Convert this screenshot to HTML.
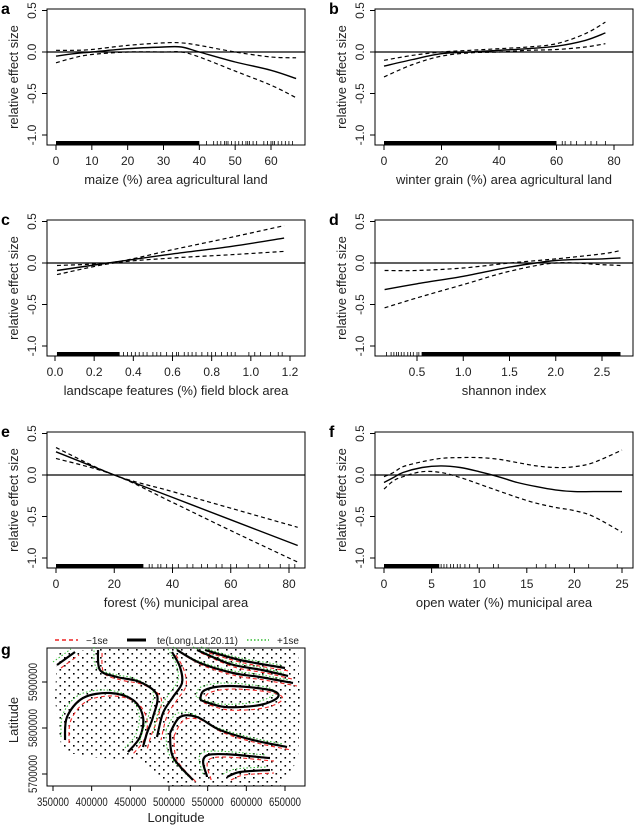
<!DOCTYPE html>
<html><head><meta charset="utf-8"><style>
html,body{margin:0;padding:0;background:#fff}
svg{display:block;font-family:"Liberation Sans",Arial,sans-serif}
</style></head><body>
<svg id="fig" width="637" height="827" viewBox="0 0 637 827" xmlns="http://www.w3.org/2000/svg">
<defs>
<pattern id="dots" width="9" height="8" patternUnits="userSpaceOnUse">
<rect x="1" y="1" width="1.6" height="1.6" fill="#000"/><rect x="5.5" y="5" width="1.6" height="1.6" fill="#000"/>
</pattern>
<clipPath id="hull"><polygon points="57,652 100,649 298,649 300,700 298,760 280,786 170,786 140,760 100,758 62,752 55,700"/></clipPath>
</defs>
<g id="panels"></g>
<g id="map"></g>
</svg>
<script>
// ---- data ----
const aX=[0,5,10,20,30,35,40,50,60,67];
const aFit=[-0.05,-0.02,0.0,0.04,0.06,0.06,0.0,-0.12,-0.22,-0.32];
const aUp=[0.02,0.02,0.03,0.08,0.11,0.11,0.08,0.0,-0.06,-0.07];
const aLo=[-0.13,-0.07,-0.03,0.0,0.0,0.0,-0.06,-0.23,-0.4,-0.55];
const aTicks=[0,10,20,30,40,50,60];
const aRug=[42,44,45,46,47,47.5,48,49,50,51,52,53,53.5,54,55,56,58,59,60,60.5,61,62,63,64,65,66];

const bX=[0,10,20,30,40,50,60,70,77];
const bFit=[-0.17,-0.09,-0.02,0.0,0.02,0.04,0.07,0.14,0.23];
const bUp=[-0.1,-0.04,0.0,0.02,0.04,0.06,0.1,0.22,0.36];
const bLo=[-0.3,-0.15,-0.05,-0.01,0.0,0.02,0.03,0.06,0.1];
const bTicks=[0,20,40,60,80];
const bRug=[62,63,65,67,70,72,74,77];

const cX=[0.01,0.3,0.6,0.9,1.17];
const cFit=[-0.09,0.01,0.11,0.2,0.3];
const cUp=[-0.03,0.01,0.16,0.31,0.45];
const cLo=[-0.14,0.0,0.06,0.1,0.14];
const cTicks=[0.0,0.2,0.4,0.6,0.8,1.0,1.2];
const cRug=[0.35,0.37,0.39,0.41,0.43,0.45,0.47,0.5,0.52,0.54,0.57,0.6,0.62,0.63,0.66,0.68,0.7,0.72,0.75,0.78,0.8,0.82,0.85,0.88,0.9,0.92,0.99,1.02,1.05,1.1,1.14,1.16];

const dX=[0.15,0.5,1.0,1.5,2.0,2.5,2.7];
const dFit=[-0.32,-0.25,-0.16,-0.05,0.03,0.05,0.06];
const dUp=[-0.09,-0.09,-0.06,0.0,0.05,0.11,0.15];
const dLo=[-0.54,-0.42,-0.26,-0.1,0.0,-0.02,-0.03];
const dTicks=[0.5,1.0,1.5,2.0,2.5];
const dRug=[0.17,0.22,0.25,0.28,0.3,0.33,0.36,0.4,0.43,0.46,0.5,0.52];

const eX=[0,20,40,60,83];
const eFit=[0.28,0.0,-0.27,-0.54,-0.85];
const eUp=[0.33,0.0,-0.2,-0.4,-0.63];
const eLo=[0.2,0.0,-0.33,-0.67,-1.05];
const eTicks=[0,20,40,60,80];
const eRug=[32,33,35,36,38,40,42,45,47,50,52,55,57,60,62,66,70,73,77,80,82];

const fX=[0,1,2,4,6,8,10,12,14,16,18,20,22,25];
const fFit=[-0.09,-0.03,0.03,0.09,0.11,0.09,0.04,-0.02,-0.09,-0.14,-0.18,-0.2,-0.2,-0.2];
const fUp=[-0.02,0.03,0.1,0.16,0.2,0.21,0.21,0.19,0.15,0.11,0.09,0.1,0.15,0.3];
const fLo=[-0.17,-0.07,-0.02,0.04,0.03,-0.03,-0.11,-0.19,-0.27,-0.34,-0.39,-0.43,-0.5,-0.69];
const fTicks=[0,5,10,15,20,25];
const fRug=[6,6.3,6.6,7,7.3,7.7,8,8.5,9,9.8,11.5,12,16,17,18,19.5,21.5,24.5];

const yTicks=[0.5,0.0,-0.5,-1.0];
const yTickLabels=["0.5","0.0","-0.5","-1.0"];

const NS="http://www.w3.org/2000/svg";
function mk(tag,attrs,parent){const e=document.createElementNS(NS,tag);for(const k in attrs)e.setAttribute(k,attrs[k]);parent.appendChild(e);return e;}
function smooth(pts){let d="M"+pts[0][0].toFixed(1)+","+pts[0][1].toFixed(1);
 for(let i=0;i<pts.length-1;i++){const p0=pts[i-1]||pts[i],p1=pts[i],p2=pts[i+1],p3=pts[i+2]||p2;
  const c1=[p1[0]+(p2[0]-p0[0])/6,p1[1]+(p2[1]-p0[1])/6],c2=[p2[0]-(p3[0]-p1[0])/6,p2[1]-(p3[1]-p1[1])/6];
  d+="C"+c1.join(",")+" "+c2.join(",")+" "+p2[0].toFixed(1)+","+p2[1].toFixed(1);}
 return d;}

const panelsG=document.getElementById('panels');
const panels=[
 {id:"a",ox:0,oy:0,t0:0,p0:56,t1:60,p1:271,X:aX,fit:aFit,up:aUp,lo:aLo,ticks:aTicks,rug:aRug,dense:[0,40],xl:"maize (%) area agricultural land",fmt:v=>String(v)},
 {id:"b",ox:328,oy:0,t0:0,p0:384,t1:80,p1:614,X:bX,fit:bFit,up:bUp,lo:bLo,ticks:bTicks,rug:bRug,dense:[0,60],xl:"winter grain (%) area agricultural land",fmt:v=>String(v)},
 {id:"c",ox:0,oy:211,t0:0,p0:55,t1:1.2,p1:290,X:cX,fit:cFit,up:cUp,lo:cLo,ticks:cTicks,rug:cRug,dense:[0.01,0.33],xl:"landscape features (%) field block area",fmt:v=>v.toFixed(1)},
 {id:"d",ox:328,oy:211,t0:0.5,p0:417,t1:2.5,p1:602,X:dX,fit:dFit,up:dUp,lo:dLo,ticks:dTicks,rug:dRug,dense:[0.55,2.7],xl:"shannon index",fmt:v=>v.toFixed(1)},
 {id:"e",ox:0,oy:423,t0:0,p0:56,t1:80,p1:289,X:eX,fit:eFit,up:eUp,lo:eLo,ticks:eTicks,rug:eRug,dense:[0,30],xl:"forest (%) municipal area",fmt:v=>String(v)},
 {id:"f",ox:328,oy:423,t0:0,p0:384,t1:25,p1:622,X:fX,fit:fFit,up:fUp,lo:fLo,ticks:fTicks,rug:fRug,dense:[0,5.8],xl:"open water (%) municipal area",fmt:v=>String(v)}
];
panels.forEach(P=>{
 const g=mk('g',{},panelsG);
 
 
 const L=47+P.ox,R=305+P.ox,T=9+P.oy,B=145+P.oy;
 const xs=v=>P.p0+(v-P.t0)*(P.p1-P.p0)/(P.t1-P.t0);
 const ys=v=>52+P.oy-v*83;
 const lab=mk('text',{x:P.ox+1,y:14+P.oy,'font-size':16,'font-weight':'bold'},g);lab.textContent=P.id;
 
 
 const box=mk('rect',{x:L,y:T,width:R-L,height:B-T,fill:'none',stroke:'#000','stroke-width':1},g);
 
 
 yTicks.forEach((v,i)=>{const y=ys(v);mk('line',{x1:L-5,x2:L,y1:y,y2:y,stroke:'#000'},g);
  const t=mk('text',{x:0,y:0,'font-size':12,'text-anchor':'middle',fill:'#222',transform:`translate(${36+P.ox},${y}) rotate(-90)`},g);t.textContent=yTickLabels[i];
  
  });
 const yt=mk('text',{'font-size':13,'text-anchor':'middle',fill:'#222',transform:`translate(${18+P.ox},${77+P.oy}) rotate(-90)`},g);yt.textContent="relative effect size";
 
 
 P.ticks.forEach(v=>{const x=xs(v);mk('line',{x1:x,x2:x,y1:B,y2:B+5,stroke:'#000'},g);
  const t=mk('text',{x:x,y:B+20,'font-size':12,'text-anchor':'middle',fill:'#222'},g);t.textContent=P.fmt(v);
  
  });
 const xt=mk('text',{x:(L+R)/2,y:B+39,'font-size':13,'text-anchor':'middle',fill:'#222'},g);xt.textContent=P.xl;
 
 
 const z=mk('line',{x1:L,x2:R,y1:ys(0),y2:ys(0),stroke:'#000','stroke-width':1.2},g);
 
 
 const rd=mk('rect',{x:xs(P.dense[0]),y:B-4,width:xs(P.dense[1])-xs(P.dense[0]),height:4,fill:'#000'},g);
 
 
 P.rug.forEach(v=>{const r=mk('line',{x1:xs(v),x2:xs(v),y1:B-4,y2:B,stroke:'#000','stroke-width':0.8},g);
  
  });
 const series=[[P.up,'upper-ci','4,3',1.2],[P.lo,'lower-ci','4,3',1.2],[P.fit,'fit-line','',1.4]];
 series.forEach(s=>{const pts=P.X.map((x,i)=>[xs(x),ys(s[0][i])]);
  const p=mk('path',{d:smooth(pts),fill:'none',stroke:'#000','stroke-width':s[3]},g);
  if(s[2])p.setAttribute('stroke-dasharray',s[2]);
  
  });
});

// ---- map panel g ----
const mapTicksX=[350000,400000,450000,500000,550000,600000,650000];
const mapTicksY=[5700000,5800000,5900000];
const M=document.getElementById('map');
const mx=v=>53+(v-350000)*(232/300000);
const my=v=>774-(v-5700000)*(92/200000);
const gl=mk('text',{x:1,y:655,'font-size':16,'font-weight':'bold'},M);gl.textContent="g";


const mb=mk('rect',{x:47,y:648,width:258,height:138,fill:'none',stroke:'#000'},M);


const dots=mk('rect',{x:47,y:648,width:258,height:138,fill:'url(#dots)','clip-path':'url(#hull)'},M);


mapTicksX.forEach(v=>{const x=mx(v);mk('line',{x1:x,x2:x,y1:786,y2:791,stroke:'#000'},M);
 const t=mk('text',{x:x,y:806,'font-size':11.5,'text-anchor':'middle',fill:'#222',textLength:32,lengthAdjust:'spacingAndGlyphs'},M);t.textContent=String(v);
 
 });
mapTicksY.forEach(v=>{const y=my(v);mk('line',{x1:42,x2:47,y1:y,y2:y,stroke:'#000'},M);
 const t=mk('text',{'font-size':11.5,'text-anchor':'middle',fill:'#222',textLength:38,lengthAdjust:'spacingAndGlyphs',transform:`translate(37,${y}) rotate(-90)`},M);t.textContent=String(v);
 
 });
const lx=mk('text',{x:176,y:822,'font-size':13,'text-anchor':'middle',fill:'#222'},M);lx.textContent="Longitude";


const ly=mk('text',{'font-size':13,'text-anchor':'middle',fill:'#222',transform:'translate(18,720) rotate(-90)'},M);ly.textContent="Latitude";


const contours=[
 [[65,740],[67,717],[83,698],[110,693],[133,700],[143,717],[140,737],[128,752]],
 [[98,650],[100,670],[117,677],[140,682],[157,695],[153,717],[147,733],[143,747]],
 [[172,652],[180,667],[182,683],[173,697],[163,713],[157,737]],
 [[177,650],[200,663],[233,673],[260,677],[293,683]],
 [[197,650],[230,664],[262,670],[288,676]],
 [[205,650],[240,660],[285,668]],
 [[170,733],[180,717],[197,717],[220,730],[253,740],[287,747]],
 [[170,733],[173,757],[193,780]],
 [[207,777],[208,755],[270,758]],
 [[227,777],[240,772],[270,770]],
 [[57,665],[75,652]],
 [[200,700],[205,690],[230,686],[270,690],[278,697],[260,705],[225,707],[200,700]]
];
contours.forEach(c=>{
 const r=mk('path',{d:smooth(c.map(p=>[p[0]+4,p[1]+3])),fill:'none',stroke:'#e22','stroke-width':1.1,'stroke-dasharray':'4,3'},M);
 
 
 const gr=mk('path',{d:smooth(c.map(p=>[p[0]-4,p[1]-3])),fill:'none',stroke:'#3b3','stroke-width':1,'stroke-dasharray':'1.5,2'},M);
 
 
 const b=mk('path',{d:smooth(c),fill:'none',stroke:'#000','stroke-width':2.2},M);
 
 
});
// legend
const leg=mk('g',{},M);


mk('line',{x1:55,x2:78,y1:640,y2:640,stroke:'#e22','stroke-width':1.5,'stroke-dasharray':'4,3'},leg);
let t1=mk('text',{x:86,y:644,'font-size':10,fill:'#222'},leg);t1.textContent="\u22121se";
mk('line',{x1:127,x2:146,y1:640,y2:640,stroke:'#000','stroke-width':3},leg);
let t2=mk('text',{x:157,y:644,'font-size':10,fill:'#222'},leg);t2.textContent="te(Long,Lat,20.11)";
mk('line',{x1:247,x2:269,y1:640,y2:640,stroke:'#3b3','stroke-width':1.5,'stroke-dasharray':'1.5,2'},leg);
let t3=mk('text',{x:277,y:644,'font-size':10,fill:'#222'},leg);t3.textContent="+1se";
</script>
</body></html>
